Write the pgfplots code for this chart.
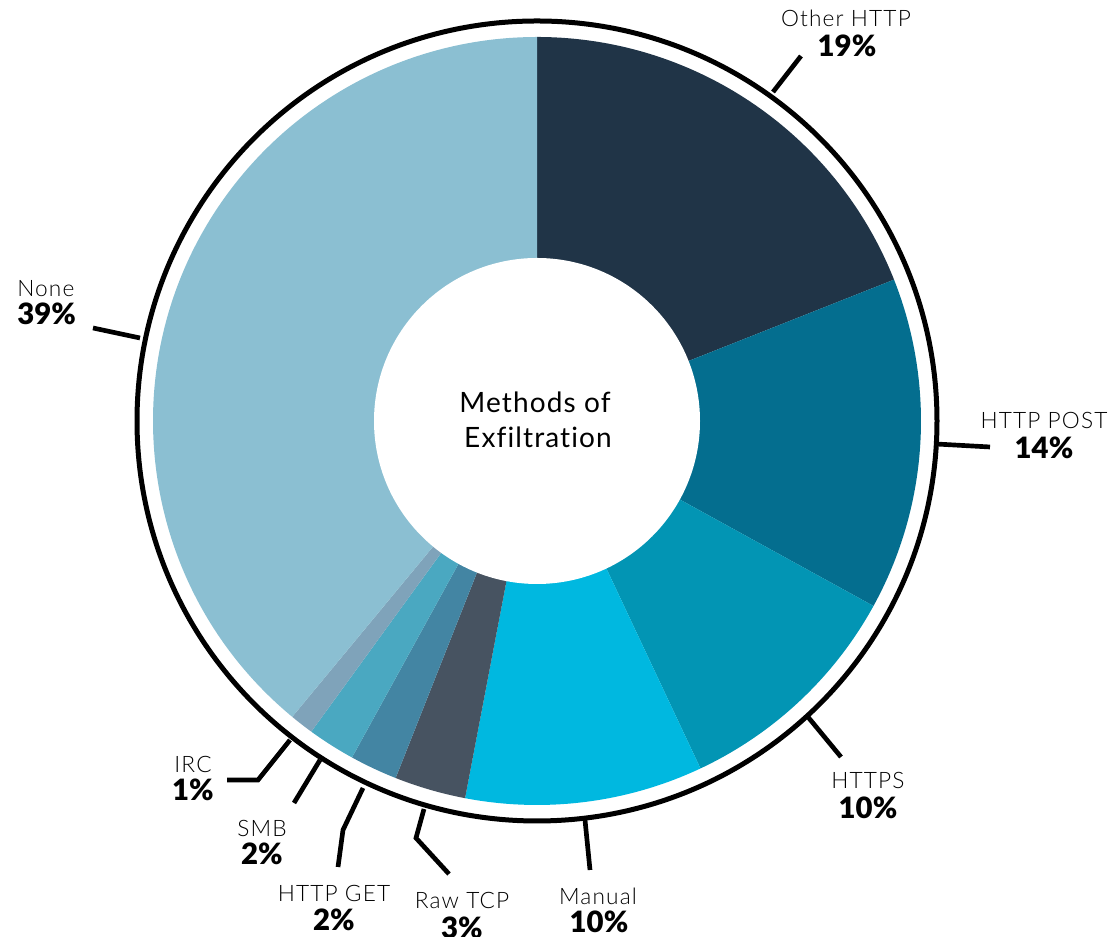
\documentclass[border=0pt]{standalone}
\usepackage{pgfplots}
\pgfplotsset{compat=1.18}
\usepackage{pgfplotstable}
\usepackage{fontspec}
\setmainfont{Lato}
\newfontfamily\lightfont[LetterSpace=5]{Lato Light}
\newfontfamily\blackfont{Lato Black}
\newfontfamily\titlefont[LetterSpace=4,Ligatures=NoCommon]{Lato}
\definecolor{c0}{HTML}{203447}
\definecolor{c1}{HTML}{046E8F}
\definecolor{c2}{HTML}{0295B4}
\definecolor{c3}{HTML}{00B8E0}
\definecolor{c4}{HTML}{475361}
\definecolor{c5}{HTML}{4385A3}
\definecolor{c6}{HTML}{4AA8C1}
\definecolor{c7}{HTML}{7FA3BA}
\definecolor{c8}{HTML}{8BBFD2}

\pgfplotstableread{
name value
OtherHTTP 19
HTTPPOST 14
HTTPS 10
Manual 10
RawTCP 3
HTTPGET 2
SMB 2
IRC 1
None 39
}\piedata

\newcommand{\nm}[3]{\node[anchor=base,font=\lightfont\fontsize{17}{19}\selectfont] at (axis cs:#1,{937-#2}) {#3};}
\newcommand{\pc}[3]{\node[anchor=base,font=\blackfont\fontsize{22}{25}\selectfont] at (axis cs:#1,{937-#2}) {#3};}

\begin{document}
\begin{tikzpicture}
\begin{axis}[
  scale only axis, width=831pt, height=702.75pt,
  xmin=0, xmax=1108, ymin=0, ymax=937,
  hide axis, clip=false,
]
\addplot[draw=none] coordinates {(0,0) (1108,937)};
\pgfmathsetmacro\cum{0}
\pgfplotsforeachungrouped \i in {0,...,8}{%
  \pgfplotstablegetelem{\i}{value}\of\piedata
  \pgfmathsetmacro\a{90-3.6*\cum}%
  \pgfmathsetmacro\b{90-3.6*(\cum+\pgfplotsretval)}%
  \edef\temp{\noexpand\fill[c\i] (axis cs:537,516) -- ++(\a:288pt) arc[start angle=\a, end angle=\b, radius=288pt] -- cycle;}%
  \temp
  \pgfmathsetmacro\cum{\cum+\pgfplotsretval}%
}
\fill[white] (axis cs:537,516) circle[radius=122.25pt];
\draw[line width=3.75pt] (axis cs:537,516) circle[radius=300pt];
% leader lines (pixel y -> 937-y)
\draw[line width=3.5pt] (axis cs:773,{937-92}) -- (axis cs:801,{937-56});
\draw[line width=3.5pt] (axis cs:936,{937-444}) -- (axis cs:990,{937-447});
\draw[line width=3.5pt] (axis cs:808,{937-717}) -- (axis cs:841,{937-757});
\draw[line width=3.5pt] (axis cs:585,{937-820}) -- (axis cs:590,{937-870});
\draw[line width=3.5pt] (axis cs:424,{937-809}) -- (axis cs:416,{937-838}) -- (axis cs:449,{937-874});
\draw[line width=3.5pt] (axis cs:363,{937-788}) -- (axis cs:343,{937-830}) -- (axis cs:338,{937-867});
\draw[line width=3.5pt] (axis cs:320,{937-760}) -- (axis cs:294,{937-803});
\draw[line width=3.5pt] (axis cs:290,{937-740}) -- (axis cs:258,{937-780}) -- (axis cs:227,{937-780});
\draw[line width=3.5pt] (axis cs:140,{937-338}) -- (axis cs:93,{937-328});
% labels
\nm{846}{27}{Other HTTP}\pc{847}{57}{19\%}
\nm{1044}{429}{HTTP POST}\pc{1044}{459}{14\%}
\nm{868}{789}{HTTPS}\pc{868}{819}{10\%}
\nm{598}{905}{Manual}\pc{599}{933}{10\%}
\nm{462}{909}{Raw TCP}\pc{462}{939}{3\%}
\nm{334}{902}{HTTP GET}\pc{334}{931}{2\%}
\nm{262}{837}{SMB}\pc{262}{865}{2\%}
\nm{193}{773}{IRC}\pc{193}{801}{1\%}
\node[anchor=base west,font=\lightfont\fontsize{17}{19}\selectfont,inner sep=0pt] at (axis cs:17,{937-297}) {None};
\node[anchor=base west,font=\blackfont\fontsize{22}{25}\selectfont,inner sep=0pt] at (axis cs:17,{937-325}) {39\%};
\node[anchor=base,font=\titlefont\fontsize{21}{25}\selectfont] at (axis cs:535,{937-413}) {Methods of};
\node[anchor=base,font=\titlefont\fontsize{21}{25}\selectfont] at (axis cs:538,{937-448}) {Exfiltration};
\end{axis}
\pgfresetboundingbox
\path[use as bounding box] (0,0) rectangle (831pt,702.75pt);
\end{tikzpicture}
\end{document}
